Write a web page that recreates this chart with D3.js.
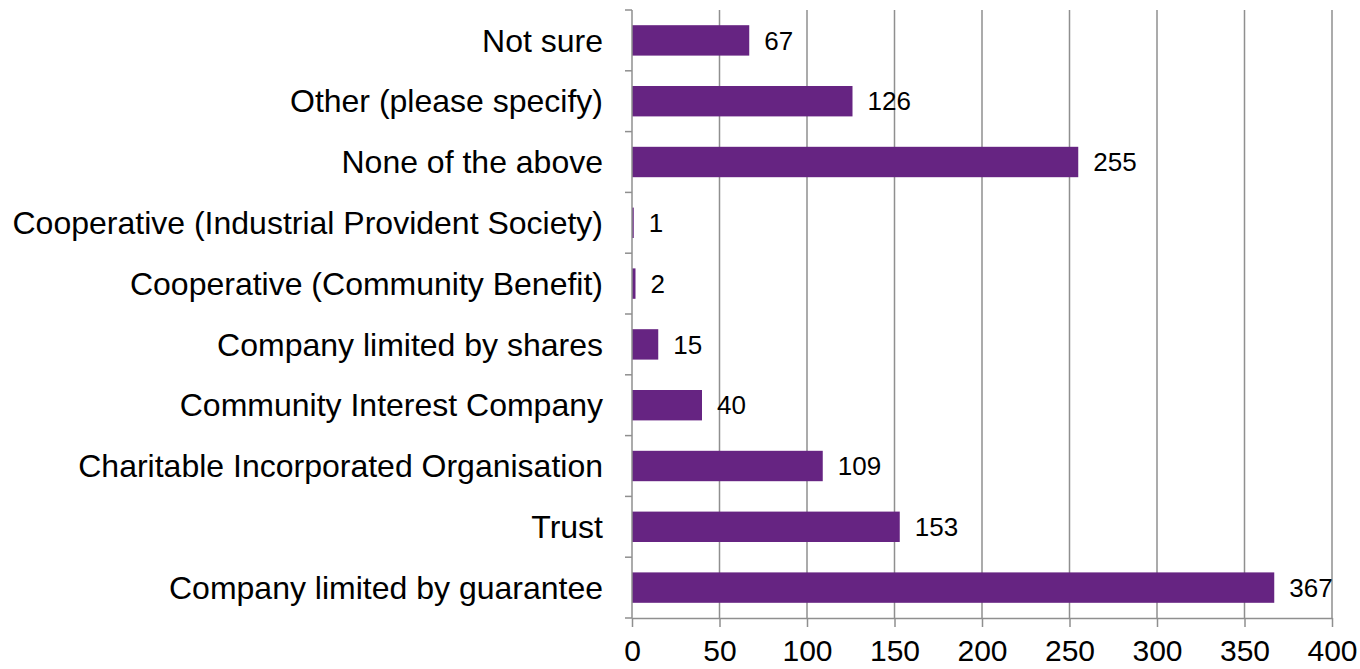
<!DOCTYPE html>
<html>
<head>
<meta charset="utf-8">
<script src="https://cdn.jsdelivr.net/npm/d3@7"></script>
<style>
  html, body { margin: 0; padding: 0; background: #fff; }
  svg { display: block; font-family: "Liberation Sans", Arial, sans-serif; }
</style>
</head>
<body>
<svg id="chart" width="1360" height="669"></svg>
<script>
// Legal structure of organisations (count of responses)
const categories = [
  "Not sure",
  "Other (please specify)",
  "None of the above",
  "Cooperative (Industrial Provident Society)",
  "Cooperative (Community Benefit)",
  "Company limited by shares",
  "Community Interest Company",
  "Charitable Incorporated Organisation",
  "Trust",
  "Company limited by guarantee"
];
const counts = [67, 126, 255, 1, 2, 15, 40, 109, 153, 367];
const xTicks = [0, 50, 100, 150, 200, 250, 300, 350, 400];

const svg = d3.select("#chart");
const margin = { top: 10, right: 28, bottom: 51, left: 632 };
const width = 1360 - margin.left - margin.right;
const height = 669 - margin.top - margin.bottom;

const g = svg.append("g").attr("transform", `translate(${margin.left},${margin.top})`);

const x = d3.scaleLinear().domain([0, 400]).range([0, width]);
const y = d3.scaleBand().domain(categories).range([0, height]).paddingInner(0.5).paddingOuter(0.25);

const gridColor = "#8f8f8f";

// vertical gridlines
g.selectAll("line.grid").data(xTicks.slice(1)).join("line")
  .attr("class", "grid")
  .attr("x1", d => x(d)).attr("x2", d => x(d))
  .attr("y1", 0).attr("y2", height)
  .attr("stroke", gridColor).attr("stroke-width", 1.5);

// bars
g.selectAll("rect.bar").data(categories).join("rect")
  .attr("class", "bar")
  .attr("x", x(0))
  .attr("y", d => y(d))
  .attr("width", (d, i) => x(counts[i]) - x(0))
  .attr("height", y.bandwidth())
  .attr("fill", "#662482");

// value labels
g.selectAll("text.val").data(categories).join("text")
  .attr("class", "val")
  .attr("x", (d, i) => x(counts[i]) + 15)
  .attr("y", d => y(d) + y.bandwidth() / 2)
  .attr("dy", "0.35em")
  .attr("font-size", 26)
  .attr("fill", "#000")
  .text((d, i) => counts[i]);

// x axis
const xAxis = g.append("g")
  .attr("transform", `translate(0,${height})`)
  .call(d3.axisBottom(x).tickValues(xTicks).tickSize(9).tickPadding(13).tickSizeOuter(0));
xAxis.select(".domain").attr("stroke", gridColor).attr("stroke-width", 1.5);
xAxis.selectAll(".tick line").attr("stroke", gridColor).attr("stroke-width", 1.5);
xAxis.selectAll(".tick text").attr("font-size", 30).attr("fill", "#000")
  .attr("font-family", "Liberation Sans, Arial, sans-serif");

// y axis with ticks at category boundaries
const yAxis = g.append("g");
yAxis.append("line")
  .attr("x1", 0).attr("x2", 0).attr("y1", 0).attr("y2", height)
  .attr("stroke", gridColor).attr("stroke-width", 1.5);
const step = y.step();
const bounds = d3.range(categories.length + 1).map(i => y(categories[0]) - y.step() * y.paddingOuter() + i * step);
yAxis.selectAll("line.tk").data(bounds).join("line")
  .attr("class", "tk")
  .attr("x1", -7).attr("x2", 0)
  .attr("y1", d => d).attr("y2", d => d)
  .attr("stroke", gridColor).attr("stroke-width", 1.5);
yAxis.selectAll("text.cat").data(categories).join("text")
  .attr("class", "cat")
  .attr("x", -29)
  .attr("y", d => y(d) + y.bandwidth() / 2)
  .attr("dy", "0.35em")
  .attr("text-anchor", "end")
  .attr("font-size", 32)
  .attr("fill", "#000")
  .text(d => d);
</script>
</body>
</html>
